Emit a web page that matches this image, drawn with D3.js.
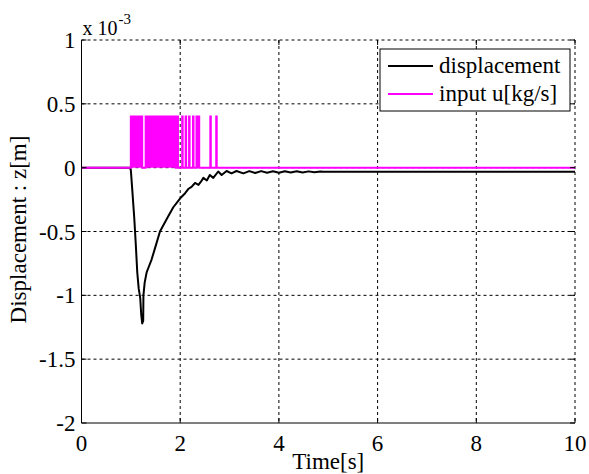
<!DOCTYPE html>
<html><head><meta charset="utf-8">
<script src="https://cdn.jsdelivr.net/npm/d3@7"></script>
<style>body{margin:0;background:#fff}svg{display:block}</style>
</head><body><svg id="c" width="589" height="474" font-family="'Liberation Serif', 'Times New Roman', Times, 'DejaVu Serif', serif"></svg>
<script>
// ---- data (z in units of 1e-3 m) ----
const xTicks = [0, 2, 4, 6, 8, 10];
const yTicks = [1, 0.5, 0, -0.5, -1, -1.5, -2];
const yTickLabels = ["1", "0.5", "0", "-0.5", "-1", "-1.5", "-2"];
const dispT = [0, 0.98, 1.0, 1.03, 1.07, 1.10, 1.13, 1.16, 1.19, 1.21, 1.23, 1.25, 1.255, 1.28, 1.32, 1.36, 1.42, 1.49, 1.59, 1.73, 1.86, 2.0, 2.1, 2.17, 2.23, 2.3, 2.37, 2.42, 2.47, 2.54, 2.6, 2.67, 2.77, 2.84, 2.94, 3.04, 3.14, 3.28, 3.4, 3.52, 3.64, 3.76, 3.88, 4.0, 4.12, 4.24, 4.36, 4.48, 4.6, 4.72, 4.84, 4.9, 10];
const dispZ = [0, 0, -0.02, -0.18, -0.40, -0.60, -0.82, -0.95, -1.02, -1.15, -1.22, -1.20, -1.00, -0.90, -0.82, -0.78, -0.72, -0.63, -0.50, -0.40, -0.31, -0.24, -0.20, -0.165, -0.15, -0.12, -0.135, -0.11, -0.08, -0.10, -0.057, -0.08, -0.03, -0.057, -0.026, -0.045, -0.026, -0.045, -0.027, -0.042, -0.027, -0.040, -0.028, -0.040, -0.028, -0.038, -0.028, -0.038, -0.029, -0.036, -0.030, -0.032, -0.032];
const uLevel = 0.4;
const uStart = [1.00, 1.30, 1.94, 2.04, 2.11, 2.18, 2.26, 2.33, 2.61, 2.73];
const uEnd   = [1.23, 1.91, 1.955, 2.05, 2.12, 2.19, 2.27, 2.385, 2.62, 2.74];
const legendLabels = ["displacement", "input u[kg/s]"];
const seriesColors = ["#000000", "#ff00ff"];

// ---- layout ----
const L = 81.5, R = 575, T = 40, B = 423;
const FS = 23;
const svg = d3.select("#c");
const x = d3.scaleLinear().domain([0, 10]).range([L, R]);
const y = d3.scaleLinear().domain([-2, 1]).range([B, T]);

// grid
const g = svg.append("g");
g.selectAll(".gx").data(xTicks.slice(1)).join("line")
  .attr("x1", d => x(d)).attr("x2", d => x(d)).attr("y1", T).attr("y2", B)
  .attr("stroke", "#000").attr("stroke-width", 1).attr("stroke-dasharray", "3,3");
g.selectAll(".gy").data(yTicks.slice(0, -1)).join("line")
  .attr("x1", L).attr("x2", R).attr("y1", d => y(d)).attr("y2", d => y(d))
  .attr("stroke", "#000").attr("stroke-width", 1).attr("stroke-dasharray", "3,3");

// input u as step signal (dense switching rendered as filled blocks)
const uPts = [[0, 0]];
uStart.forEach((s, i) => { uPts.push([s, 0], [s, uLevel], [uEnd[i], uLevel], [uEnd[i], 0]); });
uPts.push([10, 0]);
const line = d3.line().x(d => x(d[0])).y(d => y(d[1]));
const area = d3.area().x(d => x(d[0])).y0(y(0)).y1(d => y(d[1]));

// displacement
svg.append("path").datum(dispT.map((t, i) => [t, dispZ[i]]))
  .attr("d", line).attr("fill", "none").attr("stroke", seriesColors[0]).attr("stroke-width", 2).attr("stroke-linejoin", "round");
svg.append("path").datum(uPts)
  .attr("d", area).attr("fill", seriesColors[1]).attr("stroke", "none");
svg.append("path").datum(uPts)
  .attr("d", line).attr("fill", "none").attr("stroke", seriesColors[1]).attr("stroke-width", 2);

// axes: solid left & bottom, inward ticks on all sides
const ax = svg.append("g").attr("stroke", "#000").attr("stroke-width", 1);
ax.append("line").attr("x1", L).attr("x2", R).attr("y1", B).attr("y2", B);
ax.append("line").attr("x1", L).attr("x2", L).attr("y1", T).attr("y2", B);
xTicks.forEach(d => {
  ax.append("line").attr("x1", x(d)).attr("x2", x(d)).attr("y1", B).attr("y2", B - 5);
  ax.append("line").attr("x1", x(d)).attr("x2", x(d)).attr("y1", T).attr("y2", T + 5);
});
yTicks.forEach(d => {
  ax.append("line").attr("x1", L).attr("x2", L + 5).attr("y1", y(d)).attr("y2", y(d));
  ax.append("line").attr("x1", R).attr("x2", R - 5).attr("y1", y(d)).attr("y2", y(d));
});

// tick labels
svg.selectAll(".xl").data(xTicks).join("text")
  .attr("x", d => x(d)).attr("y", B + 28).attr("text-anchor", "middle").attr("font-size", FS).text(d => d);
svg.selectAll(".yl").data(yTicks).join("text")
  .attr("x", L - 6).attr("y", d => y(d) + 8).attr("text-anchor", "end").attr("font-size", FS).text((d, i) => yTickLabels[i]);

// exponent
const ex = svg.append("text").attr("x", L + 1).attr("y", 35).attr("font-size", 20);
ex.append("tspan").text("x 10");
ex.append("tspan").attr("font-size", 15).attr("dx", 1).attr("dy", -11).text("-3");

// axis titles
svg.append("text").attr("x", (L + R) / 2).attr("y", 469).attr("text-anchor", "middle").attr("font-size", FS).text("Time[s]");
svg.append("text").attr("transform", `translate(26,${(T + B) / 2 - 2}) rotate(-90)`).attr("text-anchor", "middle").attr("font-size", FS).text("Displacement : z[m]");

// legend
const lg = svg.append("g");
lg.append("rect").attr("x", 380).attr("y", 49).attr("width", 190).attr("height", 62).attr("fill", "#fff").attr("stroke", "#000").attr("stroke-width", 1);
legendLabels.forEach((lab, i) => {
  const yy = 66 + i * 28;
  lg.append("line").attr("x1", 388).attr("x2", 433).attr("y1", yy).attr("y2", yy).attr("stroke", seriesColors[i]).attr("stroke-width", 2);
  lg.append("text").attr("x", 439).attr("y", yy + 7).attr("font-size", FS).text(lab);
});
</script></body></html>
